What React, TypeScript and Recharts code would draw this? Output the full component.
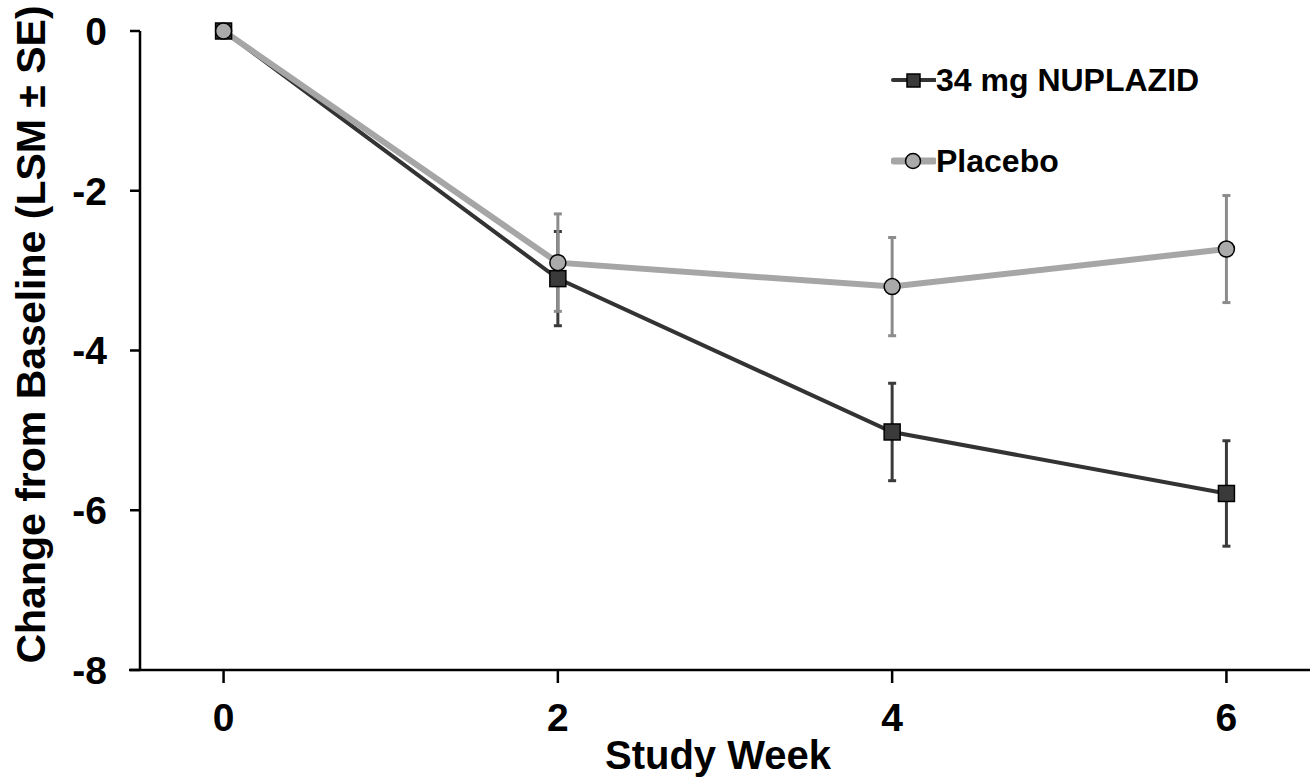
import { ComposedChart, Line, XAxis, YAxis, ErrorBar, Legend, ReferenceLine } from 'recharts';

const weeks = [0, 2, 4, 6];
const nuplazid = [0, -3.1, -5.02, -5.79];
const nuplazidSE = [0, 0.59, 0.61, 0.66];
const placebo = [0, -2.9, -3.2, -2.73];
const placeboSE = [0, 0.61, 0.615, 0.67];
const xTicks = [0, 2, 4, 6];
const yTicks = [0, -2, -4, -6, -8];

const data = weeks.map((w, i) => ({
    week: w,
    nuplazid: nuplazid[i],
    nuplazidSE: nuplazidSE[i],
    placebo: placebo[i],
    placeboSE: placeboSE[i],
}));

const font = '"Liberation Sans", Arial, sans-serif';
const tickStyle = { fontSize: 39, fontWeight: 700, fill: '#000', fontFamily: font };

function SquareDot(props: any) {
    const { cx, cy, index } = props;
    if (cx == null || cy == null) return null;
    return (
        <rect
            key={`sq-${index}`}
            x={cx - 8}
            y={cy - 8}
            width={16}
            height={16}
            fill="#3a3a3a"
            stroke="#000"
            strokeWidth={1.5}
        />
    );
}

function CircleDot(props: any) {
    const { cx, cy, index } = props;
    if (cx == null || cy == null) return null;
    return <circle key={`ci-${index}`} cx={cx} cy={cy} r={8} fill="#aaaaaa" stroke="#000" strokeWidth={1.5} />;
}

// rotated y label, a bit above the plot's middle like the original
function YLabel(props: any) {
    const vb = props.viewBox || {};
    const x = (vb.x || 0) + 31;
    const y = (vb.y || 0) + (vb.height || 0) / 2 - 16;
    return (
        <text
            x={x}
            y={y}
            transform={`rotate(-90, ${x}, ${y})`}
            textAnchor="middle"
            dominantBaseline="central"
            fontSize={41}
            fontWeight={700}
            fill="#000"
            fontFamily={font}
        >
            Change from Baseline (LSM ± SE)
        </text>
    );
}

function renderLegend() {
    const rowStyle = { display: 'flex', alignItems: 'center', height: 30 };
    const textStyle = { fontSize: 32, fontWeight: 700, fontFamily: font, color: '#000', lineHeight: '30px' };
    return (
        <div>
            <div style={rowStyle}>
                <svg width={45} height={30}>
                    <line x1={2} y1={15} x2={44} y2={15} stroke="#333" strokeWidth={4} strokeLinecap="round" />
                    <rect x={16} y={9} width={13} height={13} fill="#3a3a3a" stroke="#000" strokeWidth={1.5} />
                </svg>
                <span style={textStyle}>34 mg NUPLAZID</span>
            </div>
            <div style={{ ...rowStyle, marginTop: 51 }}>
                <svg width={45} height={30}>
                    <line x1={3} y1={15} x2={43} y2={15} stroke="#a6a6a6" strokeWidth={7} strokeLinecap="round" />
                    <circle cx={22} cy={15} r={7.5} fill="#aaaaaa" stroke="#000" strokeWidth={1.5} />
                </svg>
                <span style={textStyle}>Placebo</span>
            </div>
        </div>
    );
}

export default function App() {
    return (
        <div style={{ position: 'absolute', left: 0, top: 0, background: '#fff' }}>
            <ComposedChart width={1313} height={777} data={data} margin={{ top: 31, right: 3, bottom: 0, left: 0 }}>
                <XAxis
                    type="number"
                    dataKey="week"
                    domain={[-0.5, 6.5]}
                    ticks={xTicks}
                    height={107}
                    tickSize={13}
                    tickMargin={20}
                    tick={tickStyle}
                    axisLine={{ stroke: '#000', strokeWidth: 2.5 }}
                    tickLine={{ stroke: '#000', strokeWidth: 2.5 }}
                    label={{
                        value: 'Study Week',
                        position: 'insideBottom',
                        offset: 8,
                        dx: -7,
                        fontSize: 40,
                        fontWeight: 700,
                        fill: '#000',
                        fontFamily: font,
                    }}
                />
                <YAxis
                    type="number"
                    domain={[-8, 0]}
                    ticks={yTicks}
                    width={140}
                    tickSize={10}
                    tickMargin={23}
                    tick={tickStyle}
                    axisLine={{ stroke: '#000', strokeWidth: 2.5 }}
                    tickLine={{ stroke: '#000', strokeWidth: 2.5 }}
                    label={{ content: YLabel }}
                />
                <ReferenceLine
                    segment={[{ x: -0.566, y: -8 }, { x: -0.5, y: -8 }]}
                    ifOverflow="visible"
                    stroke="#000"
                    strokeWidth={2.5}
                />
                <Legend
                    content={renderLegend}
                    layout="vertical"
                    align="center"
                    verticalAlign="middle"
                    wrapperStyle={{ top: 65, left: 891, width: 'auto' }}
                />
                <Line
                    dataKey="nuplazid"
                    name="34 mg NUPLAZID"
                    stroke="#333333"
                    strokeWidth={4}
                    dot={SquareDot}
                    activeDot={false}
                    isAnimationActive={false}
                >
                    <ErrorBar dataKey="nuplazidSE" direction="y" width={4} stroke="#3a3a3a" strokeWidth={3} />
                </Line>
                <Line
                    dataKey="placebo"
                    name="Placebo"
                    stroke="#a6a6a6"
                    strokeWidth={6}
                    dot={CircleDot}
                    activeDot={false}
                    isAnimationActive={false}
                >
                    <ErrorBar dataKey="placeboSE" direction="y" width={4} stroke="#8c8c8c" strokeWidth={3} />
                </Line>
            </ComposedChart>
        </div>
    );
}
